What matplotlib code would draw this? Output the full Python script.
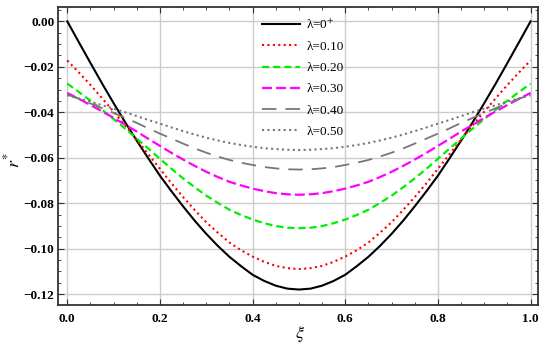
import numpy as np
import matplotlib
matplotlib.use("Agg")
import matplotlib.pyplot as plt
from matplotlib.ticker import MultipleLocator

# data, xi from 0 to 1 in steps of 0.025
xi = [0.000, 0.025, 0.050, 0.075, 0.100, 0.125, 0.150, 0.175, 0.200, 0.225, 0.250,
      0.275, 0.300, 0.325, 0.350, 0.375, 0.400, 0.425, 0.450, 0.475, 0.500,
      0.525, 0.550, 0.575, 0.600, 0.625, 0.650, 0.675, 0.700, 0.725, 0.750,
      0.775, 0.800, 0.825, 0.850, 0.875, 0.900, 0.925, 0.950, 0.975, 1.000]

r_l0 = [0.0000, -0.0092, -0.0183, -0.0273, -0.0360, -0.0444, -0.0525, -0.0603, -0.0679, -0.0748, -0.0814,
        -0.0877, -0.0935, -0.0988, -0.1036, -0.1077, -0.1115, -0.1142, -0.1163, -0.1176, -0.1180,
        -0.1176, -0.1163, -0.1142, -0.1115, -0.1077, -0.1036, -0.0988, -0.0935, -0.0877, -0.0814,
        -0.0748, -0.0679, -0.0603, -0.0525, -0.0444, -0.0360, -0.0273, -0.0183, -0.0092, 0.0000]
r_l10 = [-0.0172, -0.0225, -0.0280, -0.0338, -0.0397, -0.0458, -0.0521, -0.0585, -0.0649, -0.0713, -0.0773,
         -0.0830, -0.0884, -0.0930, -0.0973, -0.1007, -0.1035, -0.1058, -0.1076, -0.1086, -0.1090,
         -0.1086, -0.1076, -0.1058, -0.1035, -0.1007, -0.0973, -0.0930, -0.0884, -0.0830, -0.0773,
         -0.0713, -0.0649, -0.0585, -0.0521, -0.0458, -0.0397, -0.0338, -0.0280, -0.0225, -0.0172]
r_l20 = [-0.0274, -0.0311, -0.0349, -0.0389, -0.0430, -0.0472, -0.0516, -0.0560, -0.0605, -0.0649, -0.0691,
         -0.0730, -0.0767, -0.0799, -0.0829, -0.0852, -0.0872, -0.0888, -0.0901, -0.0908, -0.0910,
         -0.0908, -0.0901, -0.0888, -0.0872, -0.0852, -0.0829, -0.0799, -0.0767, -0.0730, -0.0691,
         -0.0649, -0.0605, -0.0560, -0.0516, -0.0472, -0.0430, -0.0389, -0.0349, -0.0311, -0.0274]
r_l30 = [-0.0315, -0.0341, -0.0368, -0.0396, -0.0425, -0.0455, -0.0485, -0.0517, -0.0548, -0.0579, -0.0608,
         -0.0636, -0.0662, -0.0685, -0.0706, -0.0722, -0.0736, -0.0747, -0.0756, -0.0761, -0.0763,
         -0.0761, -0.0756, -0.0747, -0.0736, -0.0722, -0.0706, -0.0685, -0.0662, -0.0636, -0.0608,
         -0.0579, -0.0548, -0.0517, -0.0485, -0.0455, -0.0425, -0.0396, -0.0368, -0.0341, -0.0315]
r_l40 = [-0.0322, -0.0341, -0.0361, -0.0382, -0.0403, -0.0425, -0.0447, -0.0471, -0.0494, -0.0516, -0.0538,
         -0.0559, -0.0578, -0.0595, -0.0610, -0.0622, -0.0632, -0.0641, -0.0647, -0.0651, -0.0652,
         -0.0651, -0.0647, -0.0641, -0.0632, -0.0622, -0.0610, -0.0595, -0.0578, -0.0559, -0.0538,
         -0.0516, -0.0494, -0.0471, -0.0447, -0.0425, -0.0403, -0.0382, -0.0361, -0.0341, -0.0322]
r_l50 = [-0.0325, -0.0339, -0.0353, -0.0369, -0.0384, -0.0400, -0.0417, -0.0434, -0.0450, -0.0467, -0.0483,
         -0.0498, -0.0512, -0.0524, -0.0535, -0.0544, -0.0552, -0.0558, -0.0562, -0.0565, -0.0566,
         -0.0565, -0.0562, -0.0558, -0.0552, -0.0544, -0.0535, -0.0524, -0.0512, -0.0498, -0.0483,
         -0.0467, -0.0450, -0.0434, -0.0417, -0.0400, -0.0384, -0.0369, -0.0353, -0.0339, -0.0325]

labels = [r'λ=0$^{+}$', 'λ=0.10', 'λ=0.20', 'λ=0.30', 'λ=0.40', 'λ=0.50']

plt.rcParams['mathtext.fontset'] = 'stix'
plt.rcParams['font.family'] = ['Liberation Serif', 'DejaVu Serif']

fig = plt.figure(figsize=(5.5, 3.54), dpi=100)
ax = fig.add_axes([58 / 550, 1 - 305 / 354, 480 / 550, 298 / 354])

ax.plot(xi, r_l0, color='black', lw=1.5, label=labels[0])
ax.plot(xi, r_l10, color='#ff0000', lw=1.5, ls=(0, (1, 1.6)), label=labels[1])
ax.plot(xi, r_l20, color='#00ee00', lw=1.6, ls=(0, (3.2, 1.8)), label=labels[2])
ax.plot(xi, r_l30, color='#ff00ff', lw=1.6, ls=(0, (4.5, 1.8)), label=labels[3])
ax.plot(xi, r_l40, color='#777777', lw=1.3, ls=(0, (8, 5)), label=labels[4])
ax.plot(xi, r_l50, color='#777777', lw=1.5, ls=(0, (1, 1.6)), label=labels[5])

ax.set_xlim(-0.020, 1.016)
ax.set_ylim(-0.1248, 0.0063)

ax.xaxis.set_major_locator(MultipleLocator(0.2))
ax.xaxis.set_minor_locator(MultipleLocator(0.05))
ax.yaxis.set_major_locator(MultipleLocator(0.02))
ax.yaxis.set_minor_locator(MultipleLocator(0.005))
ax.xaxis.set_major_formatter(plt.FuncFormatter(lambda v, p: f'{v:.1f}'))
ax.yaxis.set_major_formatter(plt.FuncFormatter(lambda v, p: f'{v:.2f}'.replace('-', '\u2212') if abs(v) > 1e-9 else '0.00'))

ax.tick_params(which='both', direction='in', top=True, right=True, color='#333333')
ax.tick_params(which='major', length=4, width=0.8, labelsize=9.5, pad=2.5)
ax.tick_params(axis='x', which='major', pad=6)
ax.tick_params(which='minor', length=2, width=0.6)
for lab in ax.get_xticklabels() + ax.get_yticklabels():
    lab.set_fontweight('bold')

ax.grid(True, which='major', color='#cccccc', lw=1.0)
ax.set_axisbelow(True)
for s in ax.spines.values():
    s.set_linewidth(1.3)
    s.set_color('#333333')

# axis titles placed in figure pixels, like the reference
fig.text(13 / 550, 1 - 160 / 354, r'$r^{*}$', fontsize=13, rotation=90, ha='center', va='center')
fig.text(300 / 550, 1 - 334 / 354, r'$\xi$', fontsize=13, ha='center', va='center')

leg = ax.legend(loc='upper left', bbox_to_anchor=(0.425, 0.965), frameon=False,
                fontsize=9.5, handlelength=2.9, handletextpad=0.45, labelspacing=0.68,
                borderpad=0, borderaxespad=0)

fig.savefig('out.png', dpi=100)
